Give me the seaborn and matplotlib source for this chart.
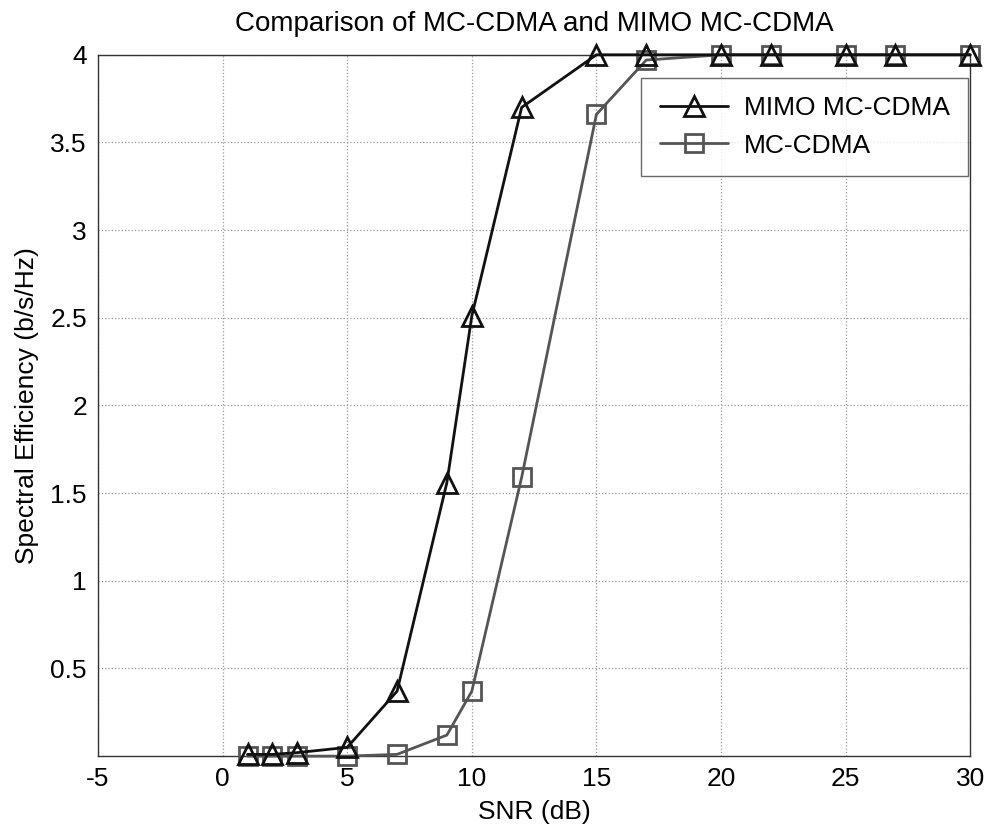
import numpy as np
import pandas as pd
import seaborn as sns
import matplotlib.pyplot as plt

# SNR points (dB)
snr = [1, 2, 3, 5, 7, 9, 10, 12, 15, 17, 20, 22, 25, 27, 30]

# spectral efficiency
mimo = [0.01, 0.01, 0.02, 0.05, 0.37, 1.56, 2.51, 3.70, 4.0, 4.0, 4.0, 4.0, 4.0, 4.0, 4.0]
mc = [0.0, 0.0, 0.0, 0.0, 0.01, 0.12, 0.37, 1.59, 3.66, 3.97, 4.0, 4.0, 4.0, 4.0, 4.0]

xticks = [-5, 0, 5, 10, 15, 20, 25, 30]
yticks = [0.5, 1, 1.5, 2, 2.5, 3, 3.5, 4]

sns.set_style("white")
plt.rcParams["font.family"] = ["Liberation Sans", "DejaVu Sans"]
plt.rcParams["axes.unicode_minus"] = False
plt.rcParams["text.color"] = "black"
plt.rcParams["axes.labelcolor"] = "black"
plt.rcParams["xtick.color"] = "black"
plt.rcParams["ytick.color"] = "black"

fig = plt.figure(figsize=(9.9, 8.3), dpi=100)
ax = fig.add_axes([0.099, 0.089, 0.881, 0.845])

# one call per series so the open markers keep their edge colour
sns.lineplot(x=snr, y=mimo, ax=ax, color="#111111", linewidth=2,
             marker="^", markersize=15, markerfacecolor="none",
             markeredgecolor="#111111", markeredgewidth=2,
             label="MIMO MC-CDMA", clip_on=False, zorder=4)
sns.lineplot(x=snr, y=mc, ax=ax, color="#555555", linewidth=2,
             marker="s", markersize=13, markerfacecolor="none",
             markeredgecolor="#555555", markeredgewidth=2,
             label="MC-CDMA", clip_on=False, zorder=3)

ax.set_xlim(-5, 30)
ax.set_ylim(0, 4)
ax.set_xticks(xticks)
ax.set_yticks(yticks)
ax.set_yticklabels([f"{v:g}" for v in yticks])
ax.tick_params(direction="in", labelsize=19, length=5, pad=8, color="#444444",
               labelcolor="black")
ax.grid(True, linestyle=":", color="#999999", linewidth=0.9)
for s in ax.spines.values():
    s.set_color("#333333")
    s.set_linewidth(1)

ax.set_xlabel("SNR (dB)", fontsize=19, labelpad=6)
ax.set_ylabel("Spectral Efficiency (b/s/Hz)", fontsize=19, labelpad=8)
ax.set_title("Comparison of MC-CDMA and MIMO MC-CDMA", fontsize=20, pad=17)

leg = ax.legend(loc="upper right", bbox_to_anchor=(0.998, 0.967), fontsize=19,
                frameon=True, fancybox=False, edgecolor="#444444",
                handlelength=2.6, borderpad=0.7, labelspacing=0.5,
                borderaxespad=0, handletextpad=0.6)
leg.get_frame().set_linewidth(1)
leg.set_zorder(5)

fig.savefig("out.png", dpi=100)
